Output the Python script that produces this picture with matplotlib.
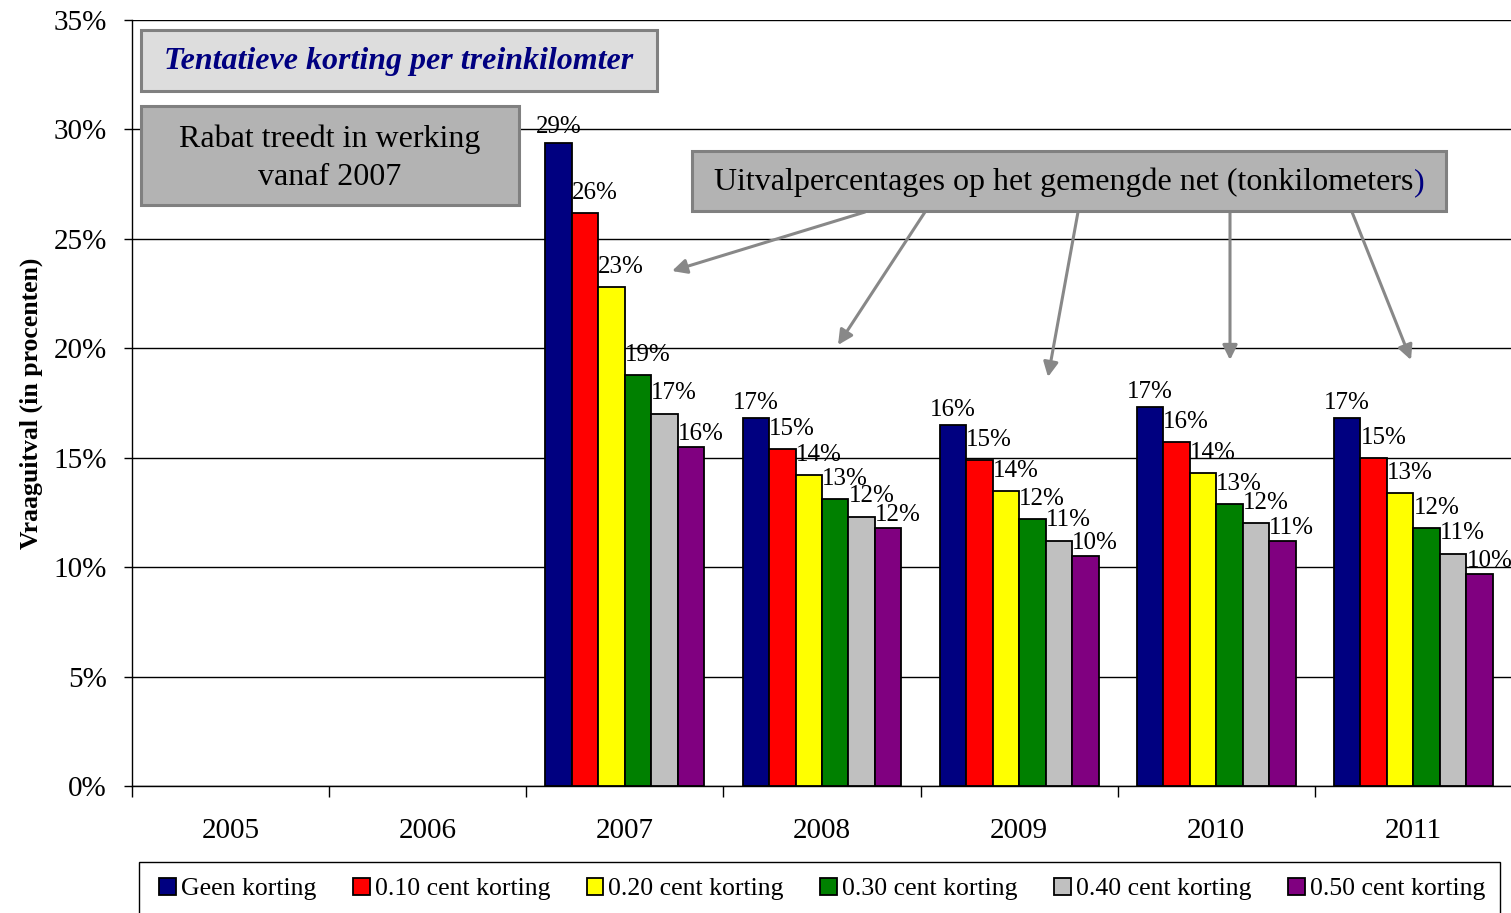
import matplotlib
matplotlib.use("Agg")
import matplotlib.pyplot as plt
import numpy as np
from matplotlib.patches import Rectangle, FancyArrowPatch
from matplotlib.ticker import FuncFormatter, MultipleLocator, FixedLocator

plt.rcParams['font.family'] = ['Liberation Serif', 'DejaVu Serif']

years = ['2005', '2006', '2007', '2008', '2009', '2010', '2011']
series = ['Geen korting', '0.10 cent korting', '0.20 cent korting',
          '0.30 cent korting', '0.40 cent korting', '0.50 cent korting']
geen = [np.nan, np.nan, 29.4, 16.8, 16.5, 17.3, 16.8]
k010 = [np.nan, np.nan, 26.2, 15.4, 14.9, 15.7, 15.0]
k020 = [np.nan, np.nan, 22.8, 14.2, 13.5, 14.3, 13.4]
k030 = [np.nan, np.nan, 18.8, 13.1, 12.2, 12.9, 11.8]
k040 = [np.nan, np.nan, 17.0, 12.3, 11.2, 12.0, 10.6]
k050 = [np.nan, np.nan, 15.5, 11.8, 10.5, 11.2, 9.7]
values = [geen, k010, k020, k030, k040, k050]
colors = ['#000080', '#FF0000', '#FFFF00', '#008000', '#C0C0C0', '#800080']

W, H = 1511, 913
fig = plt.figure(figsize=(W / 100, H / 100), dpi=100)
ax = fig.add_axes([132 / W, 1 - 786 / H, 1380 / W, 766 / H])

x = np.arange(len(years))
bw = 0.806 / 6
label_dy = [3, 6.5, 6.5, 6.5, 7, 1.5]
for i, (vals, c, name) in enumerate(zip(values, colors, series)):
    xs = x - 0.403 + bw * i
    ax.bar(xs, vals, width=bw, align='edge', color=c, edgecolor='black',
           linewidth=1.3, label=name, zorder=3)
    for xx, v in zip(xs, vals):
        if np.isnan(v):
            continue
        if i == 0:
            ax.annotate(f"{v:.0f}%", (xx + bw / 2, v), xytext=(0, label_dy[i]),
                        textcoords='offset points', ha='center', va='bottom',
                        fontsize=18, zorder=5)
        else:
            ax.annotate(f"{v:.0f}%", (xx, v), xytext=(0, label_dy[i]),
                        textcoords='offset points', ha='left', va='bottom',
                        fontsize=18, zorder=5)

ax.set_xlim(-0.5, 6.5)
ax.set_ylim(0, 35)
ax.yaxis.set_major_locator(MultipleLocator(5))
ax.yaxis.set_major_formatter(FuncFormatter(lambda v, p: f"{v:.0f}%"))
ax.grid(axis='y', color='black', linewidth=1.0, zorder=0)
ax.set_axisbelow(True)
for s in ['top', 'right']:
    ax.spines[s].set_visible(False)
ax.spines['left'].set_linewidth(1.0)
ax.spines['bottom'].set_linewidth(1.0)

ax.set_xticks(x)
ax.set_xticklabels(years)
ax.xaxis.set_minor_locator(FixedLocator(np.arange(-0.5, 7.0, 1.0)))
ax.tick_params(axis='x', which='major', length=0, pad=23, labelsize=21)
ax.tick_params(axis='x', which='minor', length=8, width=1, direction='out')
ax.tick_params(axis='y', length=6, width=1, direction='out', pad=12, labelsize=21)

ax.set_ylabel('Vraaguitval (in procenten)', fontsize=18.5, fontweight='bold')
ax.yaxis.set_label_coords((43 - 132) / 1380, 0.5)

# legend frame (extends past the bottom edge like the reference)
fig.add_artist(Rectangle((139 / W, 1 - 925 / H), (1500 - 139) / W, 63 / H,
                         transform=fig.transFigure, facecolor='white',
                         edgecolor='black', linewidth=1.0, zorder=1))
handles, labels = ax.get_legend_handles_labels()
leg = fig.legend(handles, labels, ncol=6, loc='center left',
                 bbox_to_anchor=(159 / W, 1 - 889 / H), fontsize=18.5,
                 frameon=False, handlelength=0.66, handleheight=0.66,
                 handletextpad=0.19, columnspacing=1.42, borderpad=0,
                 borderaxespad=0)
leg.set_zorder(2)


def fbox(x0, y0, x1, y1, face):
    r = Rectangle((x0 / W, 1 - y1 / H), (x1 - x0) / W, (y1 - y0) / H,
                  transform=fig.transFigure, facecolor=face,
                  edgecolor='#808080', linewidth=2.2, zorder=10)
    fig.add_artist(r)


fbox(141, 30, 657, 91, '#DDDDDD')
fig.text(399 / W, 1 - 61 / H, 'Tentatieve korting per treinkilomter',
         ha='center', va='center', fontsize=23, fontweight='bold',
         fontstyle='italic', color='#000080', zorder=11)

fbox(141, 106, 519, 205, '#B3B3B3')
fig.text(330 / W, 1 - 158 / H, 'Rabat treedt in werking\nvanaf 2007',
         ha='center', va='center', fontsize=23, linespacing=1.4, zorder=11)

fbox(692, 151, 1446, 211, '#B3B3B3')
t3 = fig.text(1064 / W, 1 - 182 / H,
              'Uitvalpercentages op het gemengde net (tonkilometers',
              ha='center', va='center', fontsize=23, zorder=11)
fig.add_artist(plt.Annotation(')', xy=(1, 0), xycoords=t3, va='bottom',
                              ha='left', fontsize=23, color='#000080',
                              zorder=11))

arrows = [((865, 212), (672, 271)), ((925, 212), (838, 345)),
          ((1078, 212), (1048, 377)), ((1230, 212), (1230, 360)),
          ((1352, 212), (1411, 360))]
for (sx, sy), (ex, ey) in arrows:
    a = FancyArrowPatch((sx / W, 1 - sy / H), (ex / W, 1 - ey / H),
                        transform=fig.transFigure, arrowstyle='-|>',
                        mutation_scale=22, color='#888888', linewidth=2.2,
                        shrinkA=0, shrinkB=0, zorder=9)
    fig.add_artist(a)

fig.savefig('out.png', dpi=100)
